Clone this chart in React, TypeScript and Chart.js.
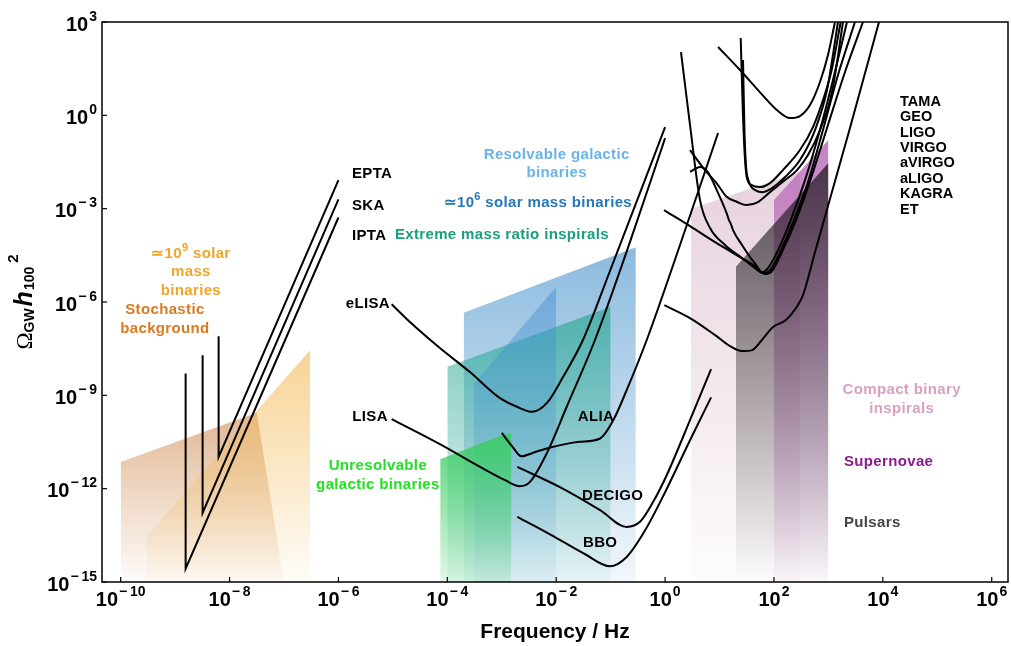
import React, { useEffect, useRef } from "react";
import { Chart, registerables } from "chart.js";

Chart.register(...registerables);

const FONT = '"Liberation Sans", Arial, Helvetica, sans-serif';

// ---------- axis ticks ----------
const xTickValues = [1e-10, 1e-8, 1e-6, 1e-4, 1e-2, 1, 1e2, 1e4, 1e6];
const yTickValues = [1e-15, 1e-12, 1e-9, 1e-6, 1e-3, 1, 1e3];

// ---------- pulsar timing arrays ----------
const eptaFreq = [6.3e-9, 6.3e-9, 1.0e-6];
const eptaOmega = [7.9e-8, 1.05e-11, 8.3e-3];
const skaFreq = [3.2e-9, 3.2e-9, 1.0e-6];
const skaOmega = [1.95e-8, 1.66e-13, 2.0e-3];
const iptaFreq = [1.56e-9, 1.56e-9, 1.0e-6];
const iptaOmega = [5.0e-9, 2.7e-15, 5.2e-4];

// ---------- space detectors ----------
const elisaFreq = [9.5e-6, 2.06e-5, 7.3e-5, 2.6e-4, 9.3e-4, 2.16e-3, 3.55e-3, 6.7e-3, 1.33e-2, 3.1e-2, 9.7e-2, 0.346, 1.0];
const elisaOmega = [8.5e-7, 2.26e-7, 3.3e-8, 5.6e-9, 8.1e-10, 3.9e-10, 2.95e-10, 5.6e-10, 3.85e-9, 6.0e-8, 9.9e-6, 3.2e-3, 0.42];
const lisaFreq = [9.5e-6, 7.3e-5, 4.0e-4, 1.15e-3, 2.16e-3, 3.3e-3, 6.7e-3, 1.56e-2, 5.15e-2, 0.226, 1.0];
const lisaOmega = [1.72e-10, 2.7e-11, 5.0e-12, 1.87e-12, 1.2e-12, 1.65e-12, 1.36e-11, 4.3e-10, 6.0e-8, 8.4e-5, 0.186];
const aliaFreq = [1.0e-3, 1.54e-3, 2.3e-3, 4.1e-3, 6.7e-3, 1.45e-2, 2.7e-2, 6.4e-2, 0.112, 0.197, 0.46, 1.88, 9.4];
const aliaOmega = [6.2e-11, 2.33e-11, 1.1e-11, 1.5e-11, 1.96e-11, 2.7e-11, 3.2e-11, 4.1e-11, 1.6e-10, 1.47e-9, 6.0e-8, 6.8e-5, 0.27];
const decigoFreq = [1.93e-3, 1.17e-2, 6.4e-2, 0.197, 0.346, 0.6, 1.07, 2.87, 7.0];
const decigoOmega = [5.0e-12, 1.12e-12, 2.04e-13, 5.9e-14, 8.6e-14, 3.7e-13, 2.7e-12, 1.6e-10, 7.0e-9];
const bboFreq = [1.93e-3, 7.7e-3, 3.4e-2, 9.7e-2, 0.197, 0.43, 1.0, 2.87, 7.0];
const bboOmega = [1.24e-13, 3.4e-14, 7.8e-15, 3.2e-15, 6.4e-15, 4.6e-14, 7.7e-13, 3.6e-11, 8.6e-10];

// ---------- ground detectors ----------
const tamaFreq = [9.4, 23.8, 55, 119, 197, 300, 459, 700, 982, 1320];
const tamaOmega = [157, 28.6, 5.6, 1.37, 0.82, 0.95, 2.14, 11.8, 87, 1000];
const geoFreq = [24.5, 26.4, 28.7, 31.5, 39, 55, 84.5, 146, 300, 521, 795, 1150, 1680];
const geoOmega = [306, 3.1, 0.0766, 0.0106, 5.7e-3, 4.95e-3, 6.65e-3, 0.0174, 0.0766, 0.42, 3.1, 28.6, 1000];
const kagraFreq = [27.0, 28.7, 30.6, 34.8, 44.8, 60, 92, 160, 300, 567, 942, 1500];
const kagraOmega = [60, 0.337, 0.0252, 7.2e-3, 3.96e-3, 3.4e-3, 4.6e-3, 0.0104, 0.0366, 0.337, 6.5, 1000];
const ligoFreq = [2.87, 5.4, 8.9, 13.5, 20.7, 31.5, 50.8, 84.5, 160, 265, 422, 700, 1164, 1854];
const ligoOmega = [0.0766, 0.0174, 6.5e-3, 2.41e-3, 1.67e-3, 1.3e-3, 1.63e-3, 3.4e-3, 8.3e-3, 0.0174, 0.053, 0.337, 5.6, 1000];
const virgoFreq = [2.87, 4.38, 6.1, 8.9, 13.5, 14.9, 16.2, 17.7, 25.9, 36.3, 48.7, 60, 77.6, 119, 197, 372, 700, 1213, 2193];
const virgoOmega = [0.0154, 0.0218, 0.015, 3.96e-3, 7.2e-4, 4.3e-4, 3.2e-4, 2.05e-4, 6.8e-5, 2.78e-5, 1.43e-5, 9.1e-6, 1.23e-5, 4.67e-5, 3.7e-4, 8.3e-3, 0.337, 13.6, 1000];
const avirgoFreq = [1.96, 2.87, 4.38, 6.7, 12.6, 25.9, 44.8, 62.8, 84.5, 129, 224, 422, 795, 1500, 3076];
const avirgoOmega = [108, 0.49, 1.89e-3, 2.38e-4, 6.8e-5, 2.58e-5, 1.23e-5, 8.5e-6, 1.06e-5, 4.0e-5, 3.7e-4, 7.2e-3, 0.337, 19.8, 1000];
const aligoFreq = [0.955, 2.87, 8.3, 23.8, 44.8, 68.4, 92, 140, 254, 500, 982, 2018, 4315];
const aligoOmega = [9.0e-4, 2.76e-4, 8.4e-5, 2.78e-5, 1.43e-5, 7.9e-6, 9.9e-6, 4.0e-5, 4.3e-4, 0.012, 0.49, 24.7, 1000];
const etFreq = [0.97, 2.87, 8.3, 15.6, 25.9, 39.5, 60, 96, 166, 254, 341, 567, 982, 2490, 8490];
const etOmega = [7.9e-7, 3.03e-7, 8.6e-8, 3.8e-8, 2.64e-8, 2.84e-8, 6.0e-8, 1.56e-7, 2.62e-7, 6.4e-7, 1.67e-6, 4.0e-5, 1.21e-3, 0.39, 1000];

// ---------- source regions ----------
const stochFreq = [1e-10, 1e-10, 3.16e-8, 1e-7];
const stochOmega = [1e-15, 7.2e-12, 2.75e-10, 1e-15];
const smbhFreq = [3e-10, 3e-10, 3e-7, 3e-7];
const smbhOmega = [1e-15, 2.95e-14, 2.8e-8, 1e-15];
const rgbFreq = [2e-4, 2e-4, 0.29, 0.29];
const rgbOmega = [1e-15, 4.5e-7, 5.75e-5, 1e-15];
const mbhFreq = [3.1e-4, 3.1e-4, 1e-2, 1e-2];
const mbhOmega = [1e-15, 2.4e-9, 3.1e-6, 1e-15];
const emriFreq = [1e-4, 1e-4, 0.1, 0.1];
const emriOmega = [1e-15, 8.3e-9, 7.1e-7, 1e-15];
const ugbFreq = [7.4e-5, 7.4e-5, 1.0e-3, 1.5e-3, 1.5e-3];
const ugbOmega = [1e-15, 8.9e-12, 5.2e-11, 5.9e-11, 1e-15];
const cbcFreq = [3, 3, 300, 300];
const cbcOmega = [1e-15, 1e-3, 1.54e-2, 1e-15];
const pulsarFreq = [20, 20, 1000, 1000];
const pulsarOmega = [1e-15, 1.35e-5, 2.95e-2, 1e-15];
const snFreq = [100, 100, 1000, 1000];
const snOmega = [1e-15, 1.9e-3, 0.162, 1e-15];

type Region = { freq: number[]; omega: number[]; rgb: string; a0: number; a1: number };
const regions: Region[] = [
  { freq: ugbFreq, omega: ugbOmega, rgb: "55,205,95", a0: 0.85, a1: 0.15 },
  { freq: mbhFreq, omega: mbhOmega, rgb: "60,140,210", a0: 0.45, a1: 0.05 },
  { freq: emriFreq, omega: emriOmega, rgb: "30,165,140", a0: 0.62, a1: 0.06 },
  { freq: rgbFreq, omega: rgbOmega, rgb: "95,160,210", a0: 0.72, a1: 0.08 },
  { freq: pulsarFreq, omega: pulsarOmega, rgb: "25,20,25", a0: 0.72, a1: 0.0 },
  { freq: snFreq, omega: snOmega, rgb: "180,100,180", a0: 0.8, a1: 0.05 },
  { freq: cbcFreq, omega: cbcOmega, rgb: "215,180,200", a0: 0.6, a1: 0.04 },
  { freq: smbhFreq, omega: smbhOmega, rgb: "242,188,90", a0: 0.65, a1: 0.04 },
  { freq: stochFreq, omega: stochOmega, rgb: "205,135,75", a0: 0.6, a1: 0.03 },
];

type Curve = { freq: number[]; omega: number[]; smooth: boolean };
const curves: Curve[] = [
  { freq: eptaFreq, omega: eptaOmega, smooth: false },
  { freq: skaFreq, omega: skaOmega, smooth: false },
  { freq: iptaFreq, omega: iptaOmega, smooth: false },
  { freq: elisaFreq, omega: elisaOmega, smooth: true },
  { freq: lisaFreq, omega: lisaOmega, smooth: true },
  { freq: aliaFreq, omega: aliaOmega, smooth: true },
  { freq: decigoFreq, omega: decigoOmega, smooth: true },
  { freq: bboFreq, omega: bboOmega, smooth: true },
  { freq: tamaFreq, omega: tamaOmega, smooth: true },
  { freq: geoFreq, omega: geoOmega, smooth: true },
  { freq: kagraFreq, omega: kagraOmega, smooth: true },
  { freq: ligoFreq, omega: ligoOmega, smooth: true },
  { freq: virgoFreq, omega: virgoOmega, smooth: true },
  { freq: avirgoFreq, omega: avirgoOmega, smooth: true },
  { freq: aligoFreq, omega: aligoOmega, smooth: true },
  { freq: etFreq, omega: etOmega, smooth: true },
];

// ---------- annotations (anchored in data coordinates) ----------
type Note = { lines: string[]; f: number; o: number; align: "left" | "center" | "right"; color: string; size?: number; lh?: number; spacing?: number };
const notes: Note[] = [
  { lines: ["\u224310{9} solar", "mass", "binaries"], f: 1.95e-9, o: 3.5e-5, align: "center", color: "#F0A52A" },
  { lines: ["Stochastic", "background"], f: 6.5e-10, o: 5.5e-7, align: "center", color: "#D97B1F" },
  { lines: ["EPTA"], f: 1.77e-6, o: 1.3e-2, align: "left", color: "#000000" },
  { lines: ["SKA"], f: 1.77e-6, o: 1.21e-3, align: "left", color: "#000000" },
  { lines: ["IPTA"], f: 1.77e-6, o: 1.3e-4, align: "left", color: "#000000" },
  { lines: ["Resolvable galactic", "binaries"], f: 1.02e-2, o: 5.3e-2, align: "center", color: "#6BB3E6" },
  { lines: ["\u224310{6} solar mass binaries"], f: 4.6e-3, o: 1.5e-3, align: "center", color: "#2577B8" },
  { lines: ["Extreme mass ratio inspirals"], f: 1.09e-5, o: 1.42e-4, align: "left", color: "#1A9E7E" },
  { lines: ["eLISA"], f: 8.85e-6, o: 8.5e-7, align: "right", color: "#000000" },
  { lines: ["LISA"], f: 8.1e-6, o: 2.0e-10, align: "right", color: "#000000" },
  { lines: ["ALIA"], f: 2.5e-2, o: 2.0e-10, align: "left", color: "#000000" },
  { lines: ["Unresolvable", "galactic binaries"], f: 5.3e-6, o: 5.3e-12, align: "center", color: "#22E022" },
  { lines: ["DECIGO"], f: 2.98e-2, o: 5.7e-13, align: "left", color: "#000000" },
  { lines: ["BBO"], f: 3.1e-2, o: 1.77e-14, align: "left", color: "#000000" },
  { lines: ["TAMA", "GEO", "LIGO", "VIRGO", "aVIRGO", "aLIGO", "KAGRA", "ET"], f: 2.07e4, o: 2.74, align: "left", color: "#000000", size: 14.5, lh: 15.4, spacing: 0 },
  { lines: ["Compact binary", "inspirals"], f: 2.22e4, o: 1.47e-9, align: "center", color: "#D9A0C3" },
  { lines: ["Supernovae"], f: 1930, o: 7.3e-12, align: "left", color: "#8B1A8F" },
  { lines: ["Pulsars"], f: 1930, o: 7.9e-14, align: "left", color: "#444444" },
];

const toPoints = (f: number[], o: number[]) => f.map((x, i) => ({ x, y: o[i] }));

function setSpacing(ctx: any, px: number) {
  try {
    ctx.letterSpacing = px + "px";
  } catch (e) {}
}

function drawRich(ctx: any, text: string, x: number, y: number, align: string, size: number, color: string, spacing: number) {
  const parts: { t: string; sup: boolean }[] = [];
  const re = /\{([^}]*)\}/g;
  let last = 0;
  let m: any;
  while ((m = re.exec(text))) {
    if (m.index > last) parts.push({ t: text.slice(last, m.index), sup: false });
    parts.push({ t: m[1], sup: true });
    last = re.lastIndex;
  }
  if (last < text.length) parts.push({ t: text.slice(last), sup: false });
  const supSize = Math.round(size * 0.7);
  setSpacing(ctx, spacing);
  let total = 0;
  const widths = parts.map((p) => {
    ctx.font = `bold ${p.sup ? supSize : size}px ${FONT}`;
    const w = ctx.measureText(p.t).width;
    total += w;
    return w;
  });
  let sx = align === "center" ? x - total / 2 : align === "right" ? x - total : x;
  ctx.fillStyle = color;
  ctx.textAlign = "left";
  ctx.textBaseline = "middle";
  parts.forEach((p, i) => {
    ctx.font = `bold ${p.sup ? supSize : size}px ${FONT}`;
    ctx.fillText(p.t, sx, p.sup ? y - size * 0.42 : y);
    sx += widths[i];
  });
  setSpacing(ctx, 0);
}

function drawPow(ctx: any, value: number, x: number, baseline: number, align: string) {
  const e = Math.round(Math.log10(value));
  const base = "10";
  const sup = e < 0 ? "\u2212\u2009" + Math.abs(e) : String(e);
  ctx.font = `bold 20px ${FONT}`;
  const wb = ctx.measureText(base).width;
  ctx.font = `bold 14px ${FONT}`;
  const ws = ctx.measureText(sup).width;
  const tw = wb + 1 + ws;
  const sx = align === "center" ? x - tw / 2 : x - tw;
  ctx.fillStyle = "#000";
  ctx.textAlign = "left";
  ctx.textBaseline = "alphabetic";
  ctx.font = `bold 20px ${FONT}`;
  ctx.fillText(base, sx, baseline);
  ctx.font = `bold 14px ${FONT}`;
  ctx.fillText(sup, sx + wb + 1, baseline - 10);
}

const decorPlugin = {
  id: "decor",
  afterDatasetsDraw(chart: any) {
    const { ctx, chartArea: a, scales } = chart;
    const xs = scales.x;
    const ys = scales.y;
    ctx.save();
    // frame
    ctx.strokeStyle = "#000";
    ctx.lineWidth = 1.5;
    ctx.strokeRect(a.left, a.top, a.right - a.left, a.bottom - a.top);
    // inward ticks + labels
    ctx.lineWidth = 1.2;
    xTickValues.forEach((v) => {
      const px = xs.getPixelForValue(v);
      ctx.beginPath();
      ctx.moveTo(px, a.bottom);
      ctx.lineTo(px, a.bottom - 5);
      ctx.stroke();
      drawPow(ctx, v, px, a.bottom + 24, "center");
    });
    yTickValues.forEach((v) => {
      const py = ys.getPixelForValue(v);
      ctx.beginPath();
      ctx.moveTo(a.left, py);
      ctx.lineTo(a.left + 5, py);
      ctx.stroke();
      drawPow(ctx, v, a.left - 5, py + 8.5, "right");
    });
    // x title
    ctx.fillStyle = "#000";
    ctx.font = `bold 21px ${FONT}`;
    ctx.textAlign = "center";
    ctx.textBaseline = "alphabetic";
    ctx.fillText("Frequency / Hz", (a.left + a.right) / 2, 638);
    // y title
    ctx.save();
    ctx.translate(32, (a.top + a.bottom) / 2);
    ctx.rotate(-Math.PI / 2);
    const segs = [
      { t: "\u03A9", font: `23px "Liberation Serif", "DejaVu Serif", serif`, dy: 0, gap: 0 },
      { t: "GW", font: `bold 14px ${FONT}`, dy: 1.5, gap: 2 },
      { t: "h", font: `italic bold 25px ${FONT}`, dy: 0, gap: 1 },
      { t: "100", font: `bold 14px ${FONT}`, dy: 1.5, gap: 4 },
      { t: "2", font: `bold 15px ${FONT}`, dy: -14, gap: 0 },
    ];
    let tot = 0;
    const ws = segs.map((s) => {
      ctx.font = s.font;
      const w = ctx.measureText(s.t).width;
      tot += w + s.gap;
      return w;
    });
    let u = -tot / 2;
    ctx.textAlign = "left";
    segs.forEach((s, i) => {
      ctx.font = s.font;
      ctx.fillText(s.t, u, s.dy);
      u += ws[i] + s.gap;
    });
    ctx.restore();
    // annotations
    notes.forEach((n) => {
      const x = xs.getPixelForValue(n.f);
      const y = ys.getPixelForValue(n.o);
      const lh = n.lh ?? 18.3;
      n.lines.forEach((ln, i) => {
        drawRich(ctx, ln, x, y + i * lh, n.align, n.size ?? 15, n.color, n.spacing ?? 0.35);
      });
    });
    ctx.restore();
  },
};

export default function App() {
  const ref = useRef<HTMLCanvasElement | null>(null);
  useEffect(() => {
    if (!ref.current) return;
    const regionSets = regions.map((r) => {
      const top = Math.max(...r.omega);
      return {
        data: toPoints(r.freq, r.omega),
        fill: "start",
        borderWidth: 0,
        borderColor: "rgba(0,0,0,0)",
        pointRadius: 0,
        tension: 0,
        order: 10,
        backgroundColor: (c: any) => {
          const ch = c.chart;
          const area = ch.chartArea;
          if (!area || !ch.scales.y) return `rgba(${r.rgb},${r.a0})`;
          const y0 = ch.scales.y.getPixelForValue(top);
          const g = ch.ctx.createLinearGradient(0, y0, 0, area.bottom);
          g.addColorStop(0, `rgba(${r.rgb},${r.a0})`);
          g.addColorStop(1, `rgba(${r.rgb},${r.a1})`);
          return g;
        },
      };
    });
    const curveSets = curves.map((c) => ({
      data: toPoints(c.freq, c.omega),
      fill: false,
      borderColor: "#000000",
      borderWidth: 2,
      pointRadius: 0,
      order: 0,
      tension: 0,
      cubicInterpolationMode: c.smooth ? "monotone" : "default",
    }));
    const chart = new Chart(ref.current, {
      type: "line",
      data: { datasets: [...curveSets, ...regionSets] as any },
      options: {
        responsive: false,
        animation: false,
        events: [],
        layout: { padding: { left: 102, right: 3, top: 22, bottom: 64 } },
        plugins: { legend: { display: false }, tooltip: { enabled: false } },
        scales: {
          x: { type: "logarithmic", min: 4.54e-11, max: 1.99e6, display: false },
          y: { type: "logarithmic", min: 1e-15, max: 1e3, display: false },
        },
      },
      plugins: [decorPlugin],
    } as any);
    return () => chart.destroy();
  }, []);
  return (
    <div style={{ position: "absolute", left: 0, top: 0, width: 1011, height: 646, background: "#fff" }}>
      <canvas ref={ref} width={1011} height={646} style={{ display: "block", width: 1011, height: 646 }} />
    </div>
  );
}
